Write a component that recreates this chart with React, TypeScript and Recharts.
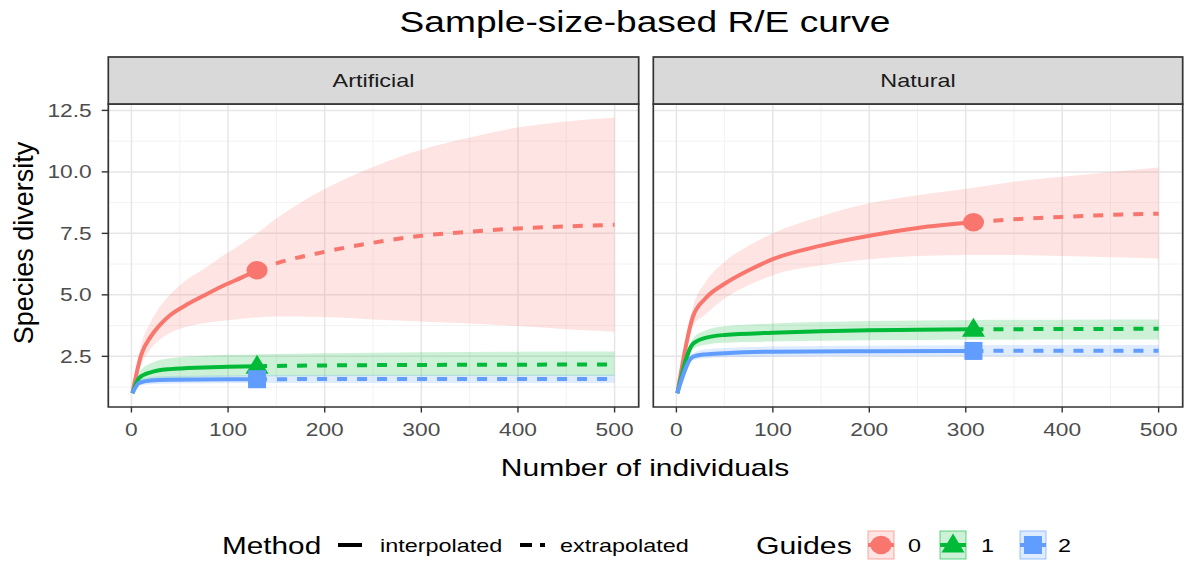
import React from "react";
import {
  ComposedChart,
  Area,
  Line,
  Scatter,
  XAxis,
  YAxis,
  CartesianGrid,
  ReferenceArea,
} from "recharts";

type Pt = { m: number; qD: number; lo: number; hi: number };

const mk = (m: number[], qD: number[], lo: number[], hi: number[]): Pt[] =>
  m.map((v, i) => ({ m: v, qD: qD[i], lo: lo[i], hi: hi[i] }));

// ---- Artificial sites ----
const artQ0Interp = mk(
  [1, 10, 20, 30, 40, 55, 75, 95, 115, 130],
  [1.0, 2.55, 3.3, 3.8, 4.17, 4.55, 4.97, 5.37, 5.72, 6.0],
  [1.0, 2.15, 2.8, 3.2, 3.45, 3.68, 3.85, 3.95, 4.03, 4.08],
  [1.0, 2.95, 3.9, 4.55, 5.0, 5.55, 6.05, 6.6, 7.1, 7.5]
);
const artQ0Extrap = mk(
  [130, 150, 200, 250, 300, 350, 400, 450, 500],
  [6.0, 6.28, 6.75, 7.12, 7.4, 7.57, 7.7, 7.78, 7.85],
  [4.08, 4.12, 4.1, 4.0, 3.92, 3.84, 3.73, 3.6, 3.5],
  [7.5, 8.1, 9.3, 10.2, 10.9, 11.4, 11.8, 12.05, 12.2]
);
const artQ1Interp = mk(
  [1, 8, 20, 40, 75, 100, 130],
  [1.0, 1.62, 1.85, 1.98, 2.05, 2.08, 2.1],
  [1.0, 1.4, 1.52, 1.6, 1.65, 1.67, 1.68],
  [1.0, 1.85, 2.22, 2.42, 2.52, 2.56, 2.58]
);
const artQ1Extrap = mk(
  [130, 200, 300, 400, 500],
  [2.1, 2.13, 2.15, 2.16, 2.17],
  [1.68, 1.69, 1.7, 1.7, 1.7],
  [2.58, 2.63, 2.67, 2.69, 2.7]
);
const artQ2Interp = mk(
  [1, 8, 20, 40, 130],
  [1.0, 1.42, 1.52, 1.55, 1.57],
  [1.0, 1.3, 1.37, 1.4, 1.42],
  [1.0, 1.55, 1.66, 1.7, 1.74]
);
const artQ2Extrap = mk(
  [130, 300, 500],
  [1.57, 1.58, 1.58],
  [1.42, 1.42, 1.42],
  [1.74, 1.75, 1.76]
);

// ---- Natural sites ----
const natQ0Interp = mk(
  [1, 17, 30, 50, 75, 100, 150, 200, 250, 308],
  [1.0, 4.1, 4.85, 5.45, 6.0, 6.45, 7.0, 7.4, 7.72, 7.95],
  [1.0, 3.7, 4.2, 4.85, 5.4, 5.8, 6.2, 6.45, 6.58, 6.62],
  [1.0, 4.5, 5.5, 6.35, 7.0, 7.5, 8.2, 8.72, 9.05, 9.35]
);
const natQ0Extrap = mk(
  [308, 350, 400, 450, 500],
  [7.95, 8.07, 8.17, 8.25, 8.3],
  [6.62, 6.62, 6.58, 6.53, 6.48],
  [9.35, 9.6, 9.8, 10.0, 10.18]
);
const natQ1Interp = mk(
  [1, 17, 30, 50, 100, 150, 200, 250, 308],
  [1.0, 3.0, 3.25, 3.37, 3.46, 3.52, 3.56, 3.58, 3.6],
  [1.0, 2.8, 2.97, 3.05, 3.1, 3.13, 3.15, 3.16, 3.17],
  [1.0, 3.22, 3.55, 3.72, 3.84, 3.9, 3.94, 3.96, 3.98]
);
const natQ1Extrap = mk(
  [308, 400, 500],
  [3.6, 3.61, 3.62],
  [3.17, 3.18, 3.18],
  [3.98, 3.99, 4.0]
);
const natQ2Interp = mk(
  [1, 17, 30, 50, 100, 200, 308],
  [1.0, 2.48, 2.58, 2.63, 2.69, 2.71, 2.72],
  [1.0, 2.34, 2.42, 2.46, 2.49, 2.5, 2.5],
  [1.0, 2.62, 2.78, 2.84, 2.9, 2.93, 2.95]
);
const natQ2Extrap = mk(
  [308, 400, 500],
  [2.72, 2.73, 2.73],
  [2.5, 2.5, 2.5],
  [2.95, 2.96, 2.96]
);

// ---- Axes ----
const X_TICKS = [0, 100, 200, 300, 400, 500];
const X_MINOR = [50, 150, 250, 350, 450];
const Y_TICKS = [2.5, 5.0, 7.5, 10.0, 12.5];
const Y_MINOR = [1.25, 3.75, 6.25, 8.75, 11.25];

const PANELS = ["Artificial", "Natural"];
const GUIDES = ["0", "1", "2"];
const COLORS = ["#F8766D", "#00BA38", "#619CFF"];
const SHAPES = ["circle", "triangle", "square"];

const artificialSeries = [
  { interp: artQ0Interp, extrap: artQ0Extrap },
  { interp: artQ1Interp, extrap: artQ1Extrap },
  { interp: artQ2Interp, extrap: artQ2Extrap },
];
const naturalSeries = [
  { interp: natQ0Interp, extrap: natQ0Extrap },
  { interp: natQ1Interp, extrap: natQ1Extrap },
  { interp: natQ2Interp, extrap: natQ2Extrap },
];

// ggplot-style 5% expansion of the data range
const allPts = [...artificialSeries, ...naturalSeries].flatMap((s) => [
  ...s.interp,
  ...s.extrap,
]);
const expand = (lo: number, hi: number): [number, number] => {
  const pad = (hi - lo) * 0.05;
  return [lo - pad, hi + pad];
};
const X_DOMAIN = expand(
  Math.min(...allPts.map((p) => p.m)),
  Math.max(...allPts.map((p) => p.m))
);
const Y_DOMAIN = expand(
  Math.min(...allPts.map((p) => p.lo)),
  Math.max(...allPts.map((p) => p.hi))
);

const FONT = "'Liberation Sans', Arial, sans-serif";
const SX = 1.3; // horizontal text stretch
const CHART_H = 450;
const LINE_W = 4;

const XTick = (props: any) => {
  const { x, y, payload } = props;
  return (
    <text
      transform={`translate(${x},${y + 21}) scale(${SX},1)`}
      textAnchor="middle"
      fontSize={17.5}
      fill="#4d4d4d"
      fontFamily={FONT}
    >
      {payload.value}
    </text>
  );
};

const YTick = (props: any) => {
  const { x, y, payload } = props;
  return (
    <text
      transform={`translate(${x},${y + 6.2}) scale(${SX},1)`}
      textAnchor="end"
      fontSize={17.5}
      fill="#4d4d4d"
      fontFamily={FONT}
    >
      {Number(payload.value).toFixed(1)}
    </text>
  );
};

const Marker = ({ cx, cy, shape, color }: any) => {
  if (cx == null || cy == null) return null;
  if (shape === "circle")
    return <ellipse cx={cx} cy={cy} rx={10.5} ry={9.3} fill={color} />;
  if (shape === "triangle")
    return (
      <polygon
        points={`${cx - 11.5},${cy + 7.5} ${cx + 11.5},${cy + 7.5} ${cx},${cy - 11.5}`}
        fill={color}
      />
    );
  return <rect x={cx - 9} y={cy - 9} width={18} height={18} fill={color} />;
};

function Panel({
  series,
  showY,
  width,
  margin,
}: {
  series: { interp: Pt[]; extrap: Pt[] }[];
  showY: boolean;
  width: number;
  margin: { top: number; right: number; bottom: number; left: number };
}) {
  return (
    <ComposedChart width={width} height={CHART_H} margin={margin}>
      <CartesianGrid
        horizontalValues={Y_MINOR}
        verticalValues={X_MINOR}
        stroke="#f1f1f1"
        strokeWidth={0.9}
      />
      <CartesianGrid
        horizontalValues={Y_TICKS}
        verticalValues={X_TICKS}
        stroke="#e6e6e6"
        strokeWidth={1.5}
      />
      <XAxis
        type="number"
        dataKey="m"
        domain={X_DOMAIN}
        ticks={X_TICKS}
        interval={0}
        allowDataOverflow
        axisLine={false}
        tickLine={{ stroke: "#333333", strokeWidth: 1.4 }}
        tickSize={5.5}
        tickMargin={2}
        height={CHART_H - margin.top - 303}
        tick={<XTick />}
      />
      <YAxis
        type="number"
        domain={Y_DOMAIN}
        ticks={Y_TICKS}
        interval={0}
        allowDataOverflow
        hide={!showY}
        axisLine={false}
        tickLine={{ stroke: "#333333", strokeWidth: 1.4 }}
        tickSize={6.6}
        tickMargin={10}
        width={108.3}
        tick={<YTick />}
      />
      {series.map((s, i) => (
        <Area
          key={`band-${i}`}
          data={[...s.interp, ...s.extrap.slice(1)]}
          dataKey={(d: Pt) => [d.lo, d.hi]}
          type="monotone"
          stroke="none"
          fill={COLORS[i]}
          fillOpacity={0.2}
          isAnimationActive={false}
          activeDot={false}
        />
      ))}
      {series.map((s, i) => (
        <Line
          key={`interp-${i}`}
          data={s.interp}
          dataKey="qD"
          type="monotone"
          stroke={COLORS[i]}
          strokeWidth={LINE_W}
          dot={false}
          activeDot={false}
          isAnimationActive={false}
        />
      ))}
      {series.map((s, i) => (
        <Line
          key={`extrap-${i}`}
          data={s.extrap}
          dataKey="qD"
          type="monotone"
          stroke={COLORS[i]}
          strokeWidth={LINE_W}
          strokeDasharray="10 10"
          dot={false}
          activeDot={false}
          isAnimationActive={false}
        />
      ))}
      {series.map((s, i) => (
        <Scatter
          key={`obs-${i}`}
          data={[s.interp[s.interp.length - 1]]}
          dataKey="qD"
          isAnimationActive={false}
          shape={(p: any) => (
            <Marker cx={p.cx} cy={p.cy} shape={SHAPES[i]} color={COLORS[i]} />
          )}
        />
      ))}
      <ReferenceArea
        x1={X_DOMAIN[0]}
        x2={X_DOMAIN[1]}
        y1={Y_DOMAIN[0]}
        y2={Y_DOMAIN[1]}
        fill="none"
        stroke="#333333"
        strokeWidth={1.7}
        ifOverflow="visible"
      />
    </ComposedChart>
  );
}

function SText({
  x,
  y,
  size,
  children,
  anchor = "start",
  color = "#000000",
  sx = SX,
  rotate,
}: any) {
  const t =
    `translate(${x},${y}) scale(${sx},1)` + (rotate ? ` rotate(${rotate})` : "");
  return (
    <text
      transform={t}
      fontSize={size}
      textAnchor={anchor}
      fill={color}
      fontFamily={FONT}
    >
      {children}
    </text>
  );
}

const LegendKeyGlyph = ({ x, i }: { x: number; i: number }) => {
  const c = COLORS[i];
  const cx = x + 13;
  const cy = 545;
  return (
    <g>
      <rect
        x={x}
        y={531}
        width={26}
        height={28}
        fill={c}
        fillOpacity={0.2}
        stroke={c}
        strokeOpacity={0.6}
        strokeWidth={1}
      />
      <line x1={x} x2={x + 26} y1={cy} y2={cy} stroke={c} strokeWidth={LINE_W} />
      <Marker cx={cx} cy={cy} shape={SHAPES[i]} color={c} />
    </g>
  );
};

export default function App() {
  const strips = [
    { x: 108.3, w: 530.4 },
    { x: 653.3, w: 529.4 },
  ];
  const guideKeyX = [868, 940, 1020];
  const guideLabelX = [908, 981, 1058];
  return (
    <div
      style={{
        position: "absolute",
        left: 0,
        top: 0,
        width: 1186,
        height: 561,
        background: "#ffffff",
        overflow: "hidden",
      }}
    >
      <div style={{ position: "absolute", left: 0, top: 0 }}>
        <Panel
          series={artificialSeries}
          showY
          width={640}
          margin={{ top: 104, right: 1.3, bottom: 0, left: 0 }}
        />
      </div>
      <div style={{ position: "absolute", left: 645, top: 0 }}>
        <Panel
          series={naturalSeries}
          showY={false}
          width={541}
          margin={{ top: 104, right: 3.3, bottom: 0, left: 8.3 }}
        />
      </div>
      <svg
        width={1186}
        height={561}
        style={{ position: "absolute", left: 0, top: 0, pointerEvents: "none" }}
      >
        <SText x={645} y={31.5} size={29} anchor="middle" sx={1.28}>
          Sample-size-based R/E curve
        </SText>
        {strips.map((s, i) => (
          <g key={PANELS[i]}>
            <rect
              x={s.x}
              y={57}
              width={s.w}
              height={47}
              fill="#d9d9d9"
              stroke="#333333"
              strokeWidth={1.7}
            />
            <SText
              x={s.x + s.w / 2}
              y={87}
              size={18}
              anchor="middle"
              color="#1a1a1a"
            >
              {PANELS[i]}
            </SText>
          </g>
        ))}
        <SText x={645} y={476} size={24} anchor="middle" sx={1.25}>
          Number of individuals
        </SText>
        <SText x={33} y={243} size={27} anchor="middle" sx={1.0} rotate={-90}>
          Species diversity
        </SText>

        {/* Method legend */}
        <SText x={222} y={554} size={24} sx={1.24}>
          Method
        </SText>
        <line x1={338} x2={362} y1={545} y2={545} stroke="#000" strokeWidth={4} />
        <SText x={380} y={551.5} size={18}>
          interpolated
        </SText>
        <line
          x1={520}
          x2={545}
          y1={545}
          y2={545}
          stroke="#000"
          strokeWidth={4}
          strokeDasharray="12 8"
        />
        <SText x={560} y={551.5} size={18}>
          extrapolated
        </SText>

        {/* Guides legend */}
        <SText x={756} y={554} size={24} sx={1.26}>
          Guides
        </SText>
        {GUIDES.map((g, i) => (
          <g key={g}>
            <LegendKeyGlyph x={guideKeyX[i]} i={i} />
            <SText x={guideLabelX[i]} y={551.5} size={18}>
              {g}
            </SText>
          </g>
        ))}
      </svg>
    </div>
  );
}
